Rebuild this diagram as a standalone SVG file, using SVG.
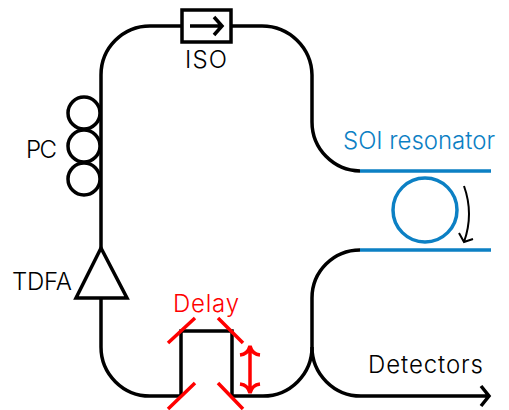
<svg xmlns="http://www.w3.org/2000/svg" width="509" height="410" viewBox="0 0 509 410">
<style>
.k{fill:none;stroke:#000;stroke-width:3.5}
.b{fill:none;stroke:#0c80c4;stroke-width:3.5}
.r{fill:none;stroke:#f00;stroke-width:3.5}
text{font-family:"Inter","Noto Sans",sans-serif;font-size:24px;font-weight:300}
</style>
<rect width="509" height="410" fill="#fff"/>
<g id="connectors">
<path class="k" d="M181 396H150A49 49 0 0 1 101 347V298M101 248V75A49 49 0 0 1 150 26H181M231 26H262A50 50 0 0 1 312 75V122A49 49 0 0 0 360 171"/>
<path class="k" d="M360 250A48 48 0 0 0 312 298V347A49 49 0 0 1 263 396H232"/>
<path class="k" d="M312 347A49 49 0 0 0 361 396H488M481 386L489 396L481 406"/>
<path class="k" style="stroke-width:2" d="M464 186Q474 214 464 242M459 233L464 242L473 239"/>
</g>
<g id="iso"><rect class="k" x="182" y="10" width="49" height="32"/><path class="k" d="M190 26H222M214 17L222 26L214 35"/><text x="185" y="68" textLength="42">ISO</text></g>
<g id="pc"><circle class="k" cx="84" cy="113" r="16"/><circle class="k" cx="84" cy="146" r="16"/><circle class="k" cx="84" cy="179" r="16"/><text x="26" y="158" textLength="31">PC</text></g>
<g id="tdfa"><path class="k" d="M101 248L127 298H76Z"/><text x="12" y="290" textLength="60">TDFA</text></g>
<g id="delay"><path class="k" d="M181 396V331H232V396"/>
<path class="r" d="M168 343L195 318M218 318L243 343M168 409L195 383M218 383L243 409"/>
<path class="r" d="M250 347V392M240 355Q248 354 250 346Q252 354 260 355M240 384Q248 385 250 393Q252 385 260 384"/>
<text x="173" y="312" fill="#f00" textLength="66">Delay</text></g>
<g id="soi"><path class="b" d="M360 171H491M360 250H491"/><circle class="b" cx="425" cy="210" r="32"/><text x="343" y="149" fill="#0c80c4" textLength="152">SOI resonator</text></g>
<g id="detectors"><text x="368" y="373" textLength="115">Detectors</text></g>
</svg>
